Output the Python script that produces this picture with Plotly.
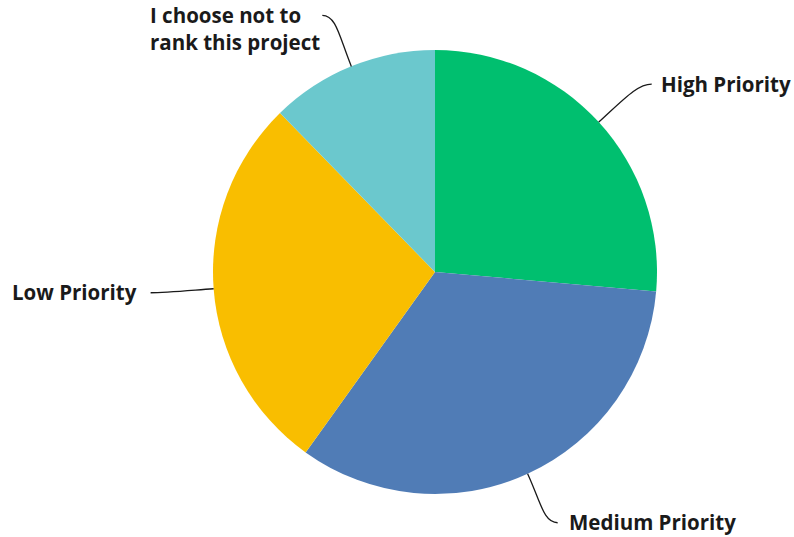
import math
import plotly.graph_objects as go

# Survey responses: project ranking
labels = ["High Priority", "Medium Priority", "Low Priority", "I choose not to<br>rank this project"]
values = [26.4, 33.5, 27.8, 12.3]
colors = ["#00BF6F", "#507CB6", "#F9BE00", "#6BC8CD"]

# Canvas and pie geometry (pixels)
W, H = 794, 537
CX, CY, R = 435, 272, 222

# Leader line end offsets from slice edge (px), hook side, and text offsets from line end
leader_end = [(53, -38), (30, 49), (-63, 4), (-29, -51)]
hook_side = [1, 1, -1, -1]
text_offset = [(7, 0), (9, -1), (-12, -1), (0, 13)]


def to_paper(px, py):
    return (px - (CX - R)) / (2 * R), ((CY + R) - py) / (2 * R)


fig = go.Figure(
    go.Pie(
        labels=labels,
        values=values,
        sort=False,
        direction="clockwise",
        rotation=0,
        marker=dict(colors=colors, line=dict(width=0)),
        textinfo="none",
        hoverinfo="label+percent",
        showlegend=False,
    )
)

total = sum(values)
shapes = []
annotations = []
cum = 0.0
for i, v in enumerate(values):
    mid = (cum + v / 2) / total * 2 * math.pi
    cum += v
    ux, uy = math.sin(mid), -math.cos(mid)
    sx, sy = CX + R * ux, CY + R * uy
    tx, ty = sx + leader_end[i][0], sy + leader_end[i][1]
    dist = math.hypot(tx - sx, ty - sy)
    c1 = (sx + ux * dist * 0.55, sy + uy * dist * 0.55)
    c2 = (tx - hook_side[i] * 14, ty)
    pts = [to_paper(*p) for p in [(sx, sy), c1, c2, (tx, ty)]]
    path = "M {:.4f},{:.4f} C {:.4f},{:.4f} {:.4f},{:.4f} {:.4f},{:.4f}".format(
        *[c for p in pts for c in p]
    )
    shapes.append(
        dict(type="path", xref="paper", yref="paper", path=path,
             line=dict(color="#1a1a1a", width=1.3))
    )
    ax, ay = to_paper(tx + text_offset[i][0], ty + text_offset[i][1])
    annotations.append(
        dict(
            x=ax, y=ay, xref="paper", yref="paper",
            text="<b>" + labels[i] + "</b>",
            showarrow=False,
            xanchor="left" if hook_side[i] > 0 else "right",
            yanchor="middle",
            align="left",
            font=dict(family="Open Sans", size=20.5, color="#1a1a1a"),
        )
    )

fig.update_layout(
    width=W,
    height=H,
    margin=dict(l=CX - R, r=W - (CX + R), t=CY - R, b=H - (CY + R), pad=0, autoexpand=False),
    paper_bgcolor="white",
    plot_bgcolor="white",
    shapes=shapes,
    annotations=annotations,
)

fig.write_html("out.html")
